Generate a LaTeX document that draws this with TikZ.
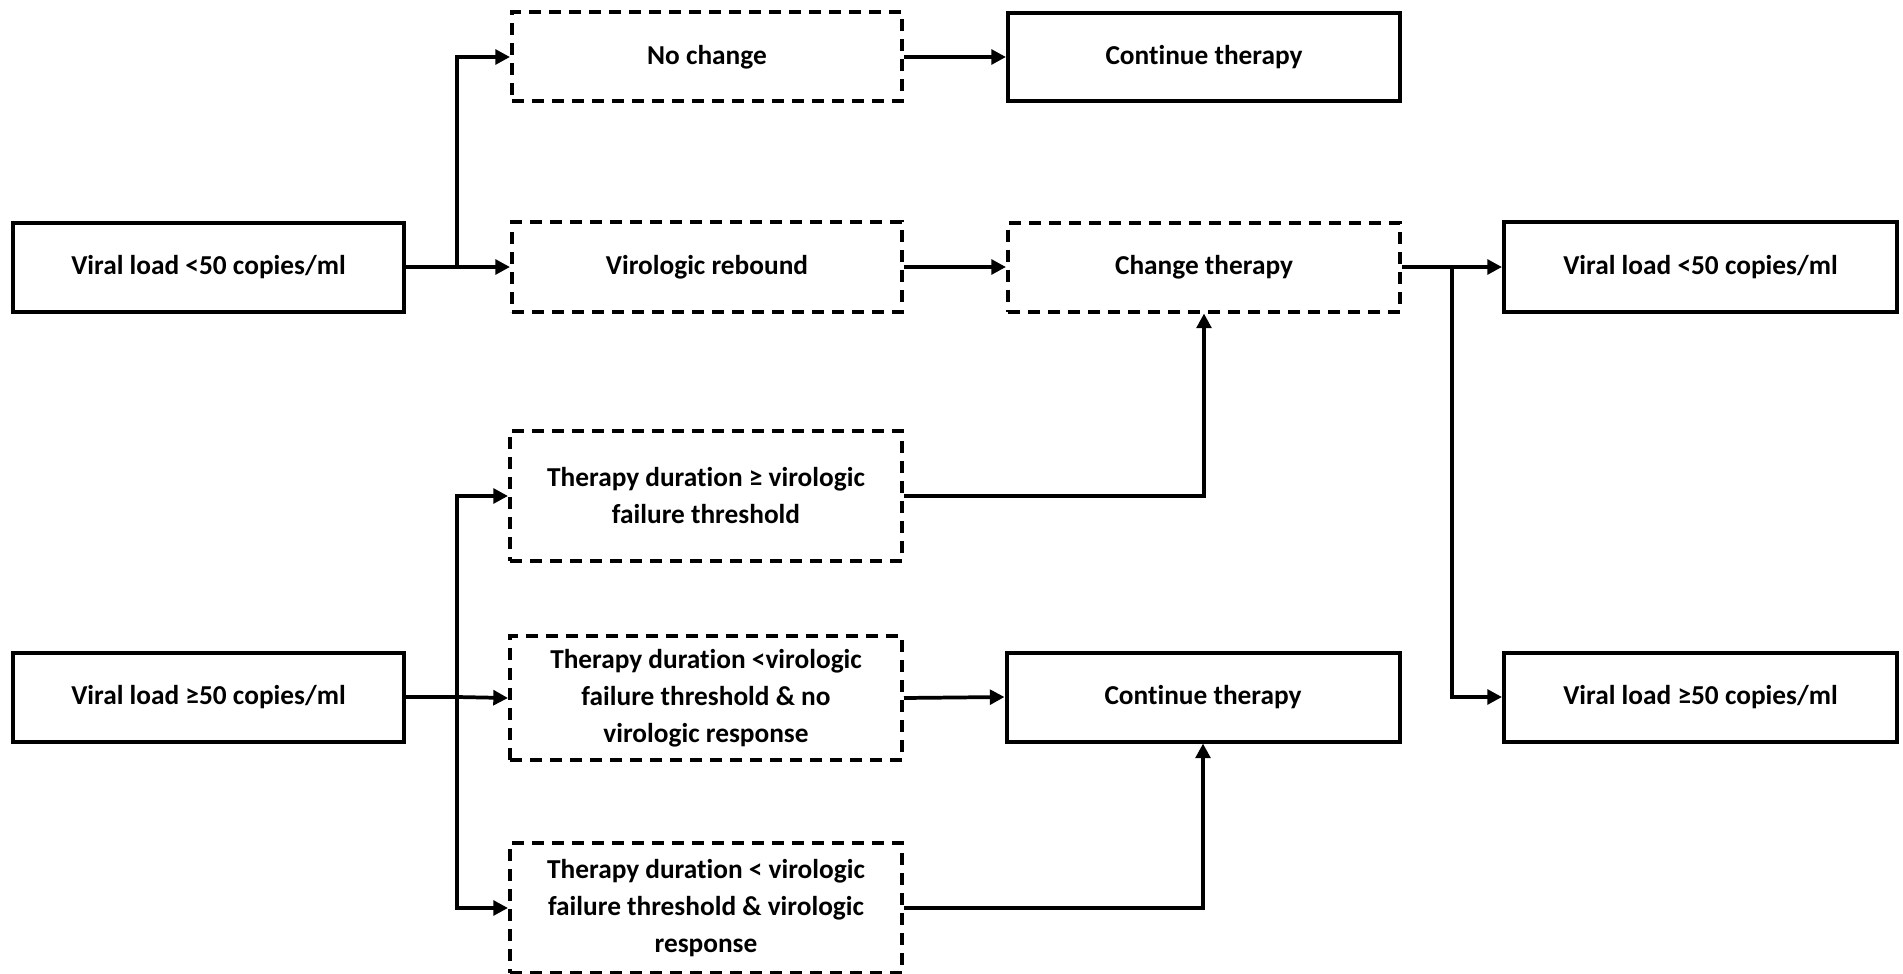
\documentclass[tikz,border=0pt]{standalone}
\usepackage{fontspec}
\setmainfont{Carlito}[Ligatures=NoCommon]
\usetikzlibrary{arrows.meta}
\begin{document}
\begin{tikzpicture}[x=0.75pt,y=-0.75pt,
  box/.style={draw=black, line width=3pt, align=center, inner sep=0pt,
    font=\bfseries\fontsize{20.5}{27.75}\selectfont},
  solidbox/.style={box},
  dashbox/.style={box, dash pattern=on 9pt off 6pt},
  sz/.style 2 args={minimum width=#1*0.75pt, minimum height=#2*0.75pt},
  conn/.style={line width=2.8pt, -{Triangle[length=11pt,width=11pt]}},
  plainline/.style={line width=2.8pt}
]
\useasboundingbox (0,0) rectangle (1903,974);

% left column
\node[solidbox, sz={391}{89}] (A) at (208.5,267) {Viral load <50 copies/ml};
\node[solidbox, sz={391}{89}] (H) at (208.5,697) {Viral load ≥50 copies/ml};

% middle column
\node[dashbox, sz={390}{89}] (B) at (707,57) {No change};
\node[dashbox, sz={390}{90}] (D) at (707,267) {Virologic rebound};
\node[dashbox, sz={392}{130}] (G) at (706,496) {Therapy duration ≥ virologic\\failure threshold};
\node[dashbox, sz={392}{124}] (I) at (706,698) {Therapy duration <virologic\\failure threshold \& no\\virologic response};
\node[dashbox, sz={392}{130}] (L) at (706,908) {Therapy duration < virologic\\failure threshold \& virologic\\response};

% third column
\node[solidbox, sz={392}{88}] (C) at (1204,57) {Continue therapy};
\node[dashbox, sz={392}{89}] (E) at (1204,267) {Change therapy};
\node[solidbox, sz={393}{89}] (J) at (1203,697) {Continue therapy};

% right column
\node[solidbox, sz={393}{90}] (F) at (1700.5,267) {Viral load <50 copies/ml};
\node[solidbox, sz={393}{89}] (K) at (1700.5,697) {Viral load ≥50 copies/ml};

% junctions
\coordinate (jA) at (457,267);
\coordinate (jH) at (457,697);
\coordinate (jE) at (1452,267);

% connectors
\draw[conn] (A.east) -- (D.west);
\draw[conn] (jA) |- (B.west);
\draw[conn] (B.east) -- (C.west);
\draw[conn] (D.east) -- (E.west);
\draw[conn] (E.east) -- (F.west);
\draw[conn] (jE) |- (K.west);
\draw[conn] (G.east) -| (E.south);

\draw[plainline] (H.east) -- (jH);
\draw[conn] (jH) -- (I.west);
\draw[conn] (jH) |- (G.west);
\draw[conn] (jH) |- (L.west);
\draw[conn] (I.east) -- (J.west);
\draw[conn] (L.east) -| (J.south);
\end{tikzpicture}
\end{document}
